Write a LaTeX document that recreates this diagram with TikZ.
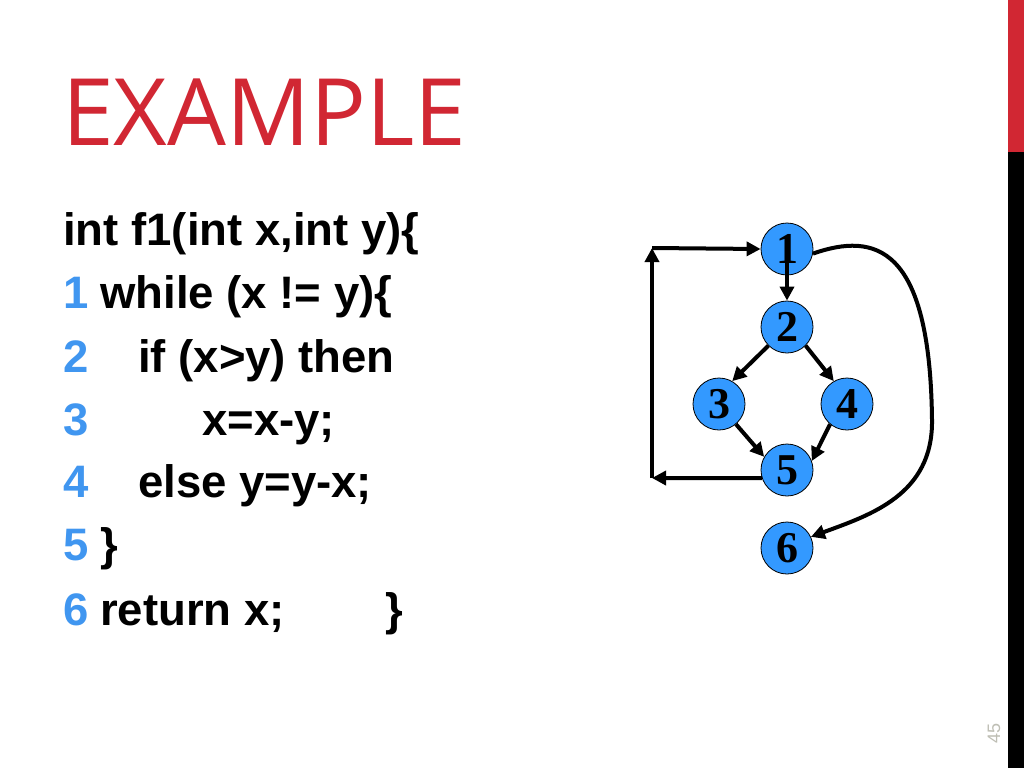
\documentclass[tikz,border=0pt]{standalone}
\usepackage{fontspec}
\usetikzlibrary{arrows.meta}
\newfontfamily\titlefont{Open Sans}
\newfontfamily\codefont{Liberation Sans}
\newfontfamily\labelfont{Liberation Serif}
\definecolor{titlered}{RGB}{209,39,51}
\definecolor{numblue}{RGB}{64,150,240}
\definecolor{nodeblue}{RGB}{51,153,255}
\definecolor{pagegray}{RGB}{190,190,180}
\tikzset{
  cnode/.style={circle,draw=black,line width=0.8pt,fill=nodeblue,minimum size=52pt,inner sep=0pt,font=\labelfont\bfseries\fontsize{44}{44}\selectfont},
  edge/.style={line width=4pt,-{Triangle[length=14pt,width=14pt]}},
  num/.style={anchor=base west,inner sep=0pt,text=numblue,font=\codefont\bfseries\fontsize{45.5}{45.5}\selectfont},
  code/.style={anchor=base west,inner sep=0pt,text=black,font=\codefont\bfseries\fontsize{45.5}{45.5}\selectfont}
}
\begin{document}
\begin{tikzpicture}[x=1pt,y=-1pt]
\useasboundingbox (0,0) rectangle (1024,768);
\fill[white] (0,0) rectangle (1024,768);
% side bars
\fill[titlered] (1008,0) rectangle (1024,152);
\fill[black] (1008,152) rectangle (1024,768);
% title
\node[anchor=base west,inner sep=0pt,text=titlered,font=\titlefont\fontsize{93}{93}\selectfont] (title) at (62,145) {EXAMPLE};
% page number
\node[rotate=90,inner sep=0pt,text=pagegray,font=\codefont\fontsize{18}{18}\selectfont] (page) at (994,733) {45};
% code
\node[code] (c0) at (63,245) {int f1(int x,int y)\{};
\node[num] (n1l) at (63,308) {1};
\node[code] (c1) at (100,308) {while (x != y)\{};
\node[num] (n2l) at (63,372) {2};
\node[code] (c2) at (138,372) {if (x>y) then};
\node[num] (n3l) at (63,435) {3};
\node[code] (c3) at (202,435) {x=x-y;};
\node[num] (n4l) at (63,497) {4};
\node[code] (c4) at (138,497) {else y=y-x;};
\node[num] (n5l) at (63,560) {5};
\node[code] (c5) at (100,560) {\}};
\node[num] (n6l) at (63,625) {6};
\node[code] (c6) at (100,625) {return x;};
\node[code] (c7) at (385,625) {\}};
% graph
\node[cnode] (n1) at (787,249) {1};
\node[cnode] (n2) at (787,327) {2};
\node[cnode] (n3) at (719,404) {3};
\node[cnode] (n4) at (847,404) {4};
\node[cnode] (n5) at (787,470) {5};
\node[cnode] (n6) at (787,548) {6};
\coordinate (bl) at (652,478);
\coordinate (tl) at (652,248);
\draw[edge] (n1.center) -- (n2.north);
\draw[edge] (n2.225) -- (n3.60);
\draw[edge] (n2.-45) -- (n4.120);
\draw[edge] (n3.-50) -- (n5.150);
\draw[edge] (n4.-130) -- (n5.20);
\draw[edge] (n5.198) -- (bl);
\draw[edge] (bl) -- (tl);
\draw[edge] (tl) -- (n1.west);
\draw[edge] (n1.-10) .. controls (875,232) and (930,245) .. (932,420) .. controls (933,495) and (870,515) .. (n6.25);
\end{tikzpicture}
\end{document}
